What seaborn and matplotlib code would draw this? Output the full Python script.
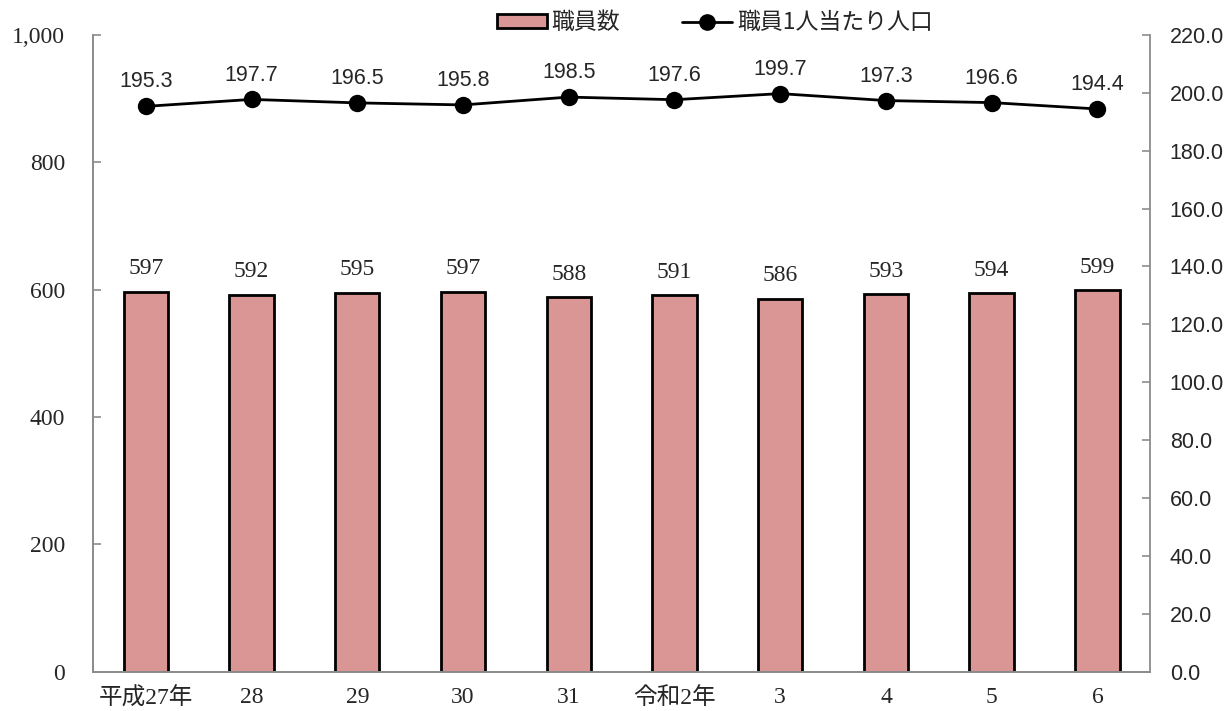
import matplotlib
matplotlib.use("Agg")
import matplotlib.pyplot as plt
import seaborn as sns
import pandas as pd
from matplotlib.patches import Patch
from matplotlib.lines import Line2D
from matplotlib.ticker import FuncFormatter, MultipleLocator

# data
years = ["平成27年", "28", "29", "30", "31", "令和2年", "3", "4", "5", "6"]
staff = [597, 592, 595, 597, 588, 591, 586, 593, 594, 599]
per_staff = [195.3, 197.7, 196.5, 195.8, 198.5, 197.6, 199.7, 197.3, 196.6, 194.4]

df = pd.DataFrame({"year": years, "staff": staff, "per_staff": per_staff})

sns.set_style("white")
serif = ["Liberation Serif", "Noto Sans CJK JP"]
gothic = ["Noto Sans CJK JP", "DejaVu Sans"]
sans = ["Liberation Sans", "DejaVu Sans"]
plt.rcParams["font.family"] = serif

bar_color = "#D99694"
spine_color = "#8C8C8C"

fig = plt.figure(figsize=(12.28, 7.11), dpi=100)
ax = fig.add_axes([0.0757, 0.055, 0.861, 0.896])

sns.barplot(data=df, x="year", y="staff", color=bar_color, width=0.42,
            edgecolor="black", linewidth=2, saturation=1, ax=ax)
ax.bar_label(ax.containers[0], fmt="%d", padding=9, fontsize=17, family=serif)

ax2 = ax.twinx()
sns.pointplot(data=df, x="year", y="per_staff", color="black", markers="o",
              markersize=11, linewidth=2, ax=ax2)
for i, v in enumerate(per_staff):
    ax2.annotate(f"{v:.1f}", (i, v), xytext=(0, 10), textcoords="offset points",
                 ha="center", va="bottom", fontsize=15.5, family=sans)

ax.set_xlim(-0.5, len(years) - 0.5)
ax2.set_xlim(-0.5, len(years) - 0.5)
ax.set_ylim(0, 1000)
ax2.set_ylim(0, 220)
ax.yaxis.set_major_locator(MultipleLocator(200))
ax2.yaxis.set_major_locator(MultipleLocator(20))
ax.yaxis.set_major_formatter(FuncFormatter(lambda v, p: f"{int(v):,}"))
ax2.yaxis.set_major_formatter(FuncFormatter(lambda v, p: f"{v:.1f}"))

ax.set_xlabel("")
ax.set_ylabel("")
ax2.set_xlabel("")
ax2.set_ylabel("")

# x ticks: labels at centres, marks between categories
ax.set_xticks(range(len(years)))
ax.set_xticklabels(years)
ax.set_xticks([i + 0.5 for i in range(len(years) - 1)], minor=True)
ax.tick_params(axis="x", which="major", length=0, labelsize=17, pad=11)
ax.tick_params(axis="x", which="minor", direction="in", length=6, color=spine_color, width=1.2)
ax.tick_params(axis="y", direction="in", length=6, color=spine_color, width=1.2,
               labelsize=17, pad=20)
ax2.tick_params(axis="y", direction="in", length=6, color=spine_color, width=1.2,
                labelsize=15.5, pad=14)
for lab in ax2.get_yticklabels():
    lab.set_family(sans)

for a in (ax, ax2):
    a.spines["top"].set_visible(False)
    for s in ("left", "right", "bottom"):
        a.spines[s].set_color(spine_color)
        a.spines[s].set_linewidth(1.3)
ax.spines["right"].set_visible(False)

handles = [
    Patch(facecolor=bar_color, edgecolor="black", linewidth=2, label="職員数"),
    Line2D([0], [0], color="black", linewidth=2, marker="o", markersize=11,
           label="職員1人当たり人口"),
]
fig.legend(handles=handles, loc="center", bbox_to_anchor=(0.582, 0.968), ncol=2,
           frameon=False, prop={"family": gothic, "size": 16.5},
           handlelength=2.2, handleheight=0.6, columnspacing=2.7, handletextpad=0.2)

plt.savefig("out.png", dpi=100)
